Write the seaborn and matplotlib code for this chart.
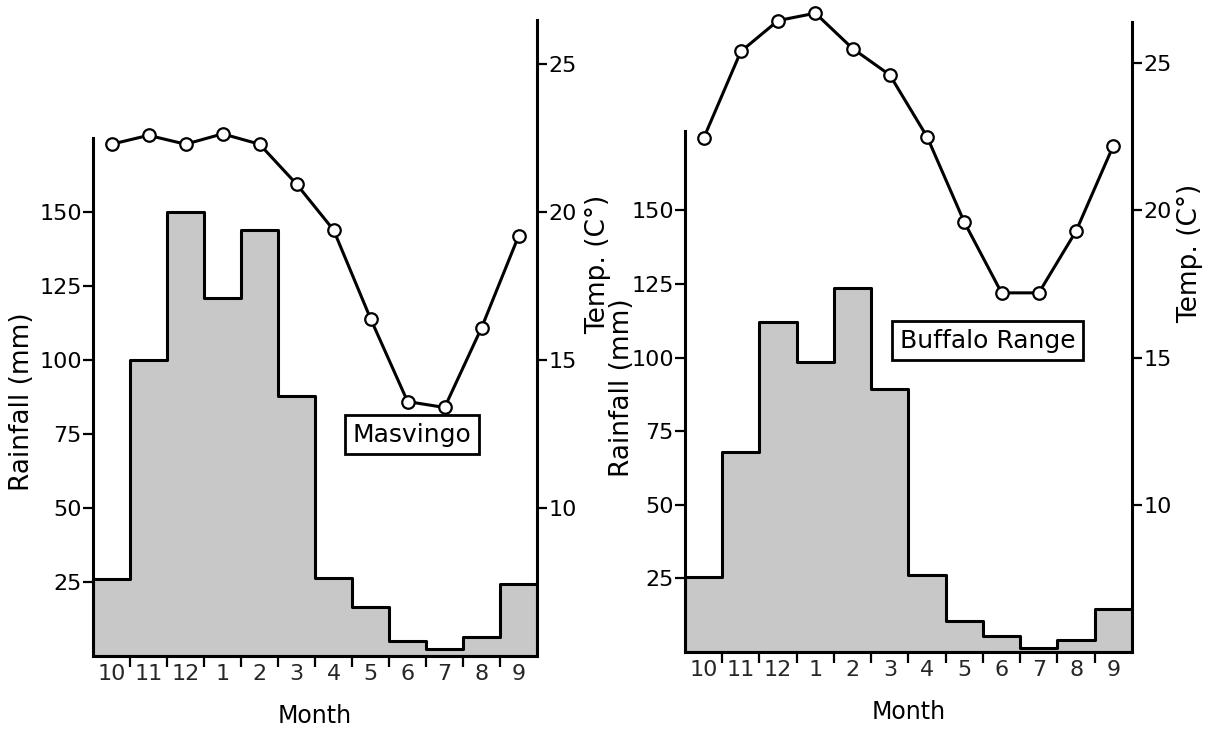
import numpy as np
import pandas as pd
import seaborn as sns
import matplotlib.pyplot as plt

# Data
months = ["10", "11", "12", "1", "2", "3", "4", "5", "6", "7", "8", "9"]
masvingo_rain = [26, 100, 150, 121, 144, 88, 26.5, 16.5, 5, 2.5, 6.5, 24.5]
masvingo_temp = [22.3, 22.6, 22.3, 22.65, 22.3, 20.95, 19.4, 16.4, 13.6, 13.4, 16.1, 19.2]
buffalo_rain = [25.5, 68, 112, 98.5, 123.5, 89.5, 26, 10.5, 5.5, 1.5, 4, 14.5]
buffalo_temp = [22.45, 25.4, 26.45, 26.7, 25.5, 24.6, 22.5, 19.6, 17.2, 17.2, 19.3, 22.2]

sns.set_style("ticks")
plt.rcParams['font.family'] = ['DejaVu Sans']

fig = plt.figure(figsize=(12.1, 7.34), dpi=100)

def draw_panel(rect, rain, temp, name, label_xy, rain_top, spine_top, rain_lab_xy, temp_lab_xy):
    ax = fig.add_axes(rect)
    pos = np.arange(len(months))
    df = pd.DataFrame({"pos": pos, "rain": rain, "temp": temp})

    # rainfall as a filled step histogram
    sns.histplot(data=df, x="pos", weights="rain", binwidth=1, binrange=(-0.5, 11.5),
                 element="step", fill=True, color="#c8c8c8", alpha=1,
                 edgecolor="black", linewidth=2.2, ax=ax)
    ax.set_xlim(-0.5, 11.5)
    ax.set_ylim(0, rain_top)
    ax.set_yticks([25, 50, 75, 100, 125, 150])
    ax.set_xticks(np.arange(0.5, 11, 1))
    ax.set_xticklabels([])
    ax.set_xticks(pos, minor=True)
    ax.set_xticklabels(months, minor=True, fontsize=16)
    ax.tick_params(axis="x", which="major", direction="out", length=8, width=1.6, color="black")
    ax.tick_params(axis="x", which="minor", length=0, pad=6)
    ax.tick_params(axis="y", direction="out", length=7, width=1.6, labelsize=16, pad=1,
                   color="black", labelcolor="black")
    ax.tick_params(axis="x", labelcolor="black")
    ax.set_ylabel("Rainfall (mm)", fontsize=19, color="black")
    ax.yaxis.set_label_coords(*rain_lab_xy)
    ax.set_xlabel("Month", fontsize=17, color="black", labelpad=14)
    for s in ["top", "right"]:
        ax.spines[s].set_visible(False)
    ax.spines["left"].set_bounds(0, spine_top)
    ax.spines["left"].set_linewidth(2.2)
    ax.spines["left"].set_color("black")
    ax.spines["bottom"].set_linewidth(2.2)
    ax.spines["bottom"].set_color("black")

    ax.text(label_xy[0], label_xy[1], name, fontsize=18, ha="center", va="center", color="black",
            bbox=dict(boxstyle="square,pad=0.3", facecolor="white", edgecolor="black", linewidth=2))

    # temperature on twin axis
    ax2 = ax.twinx()
    sns.lineplot(data=df, x="pos", y="temp", color="black", linewidth=2.2,
                 marker="o", markersize=9, markerfacecolor="white",
                 markeredgecolor="black", markeredgewidth=1.6, clip_on=False, ax=ax2)
    ax2.set_ylim(5, (rain_top + 50) / 10)
    ax2.set_yticks([10, 15, 20, 25])
    ax2.tick_params(axis="y", direction="out", length=7, width=1.6, labelsize=16, pad=1,
                    color="black", labelcolor="black")
    ax2.set_ylabel("Temp. (C°)", fontsize=19, color="black")
    ax2.yaxis.set_label_coords(*temp_lab_xy)
    for s in ["top", "left", "bottom"]:
        ax2.spines[s].set_visible(False)
    ax2.spines["right"].set_linewidth(2.2)
    ax2.spines["right"].set_color("black")
    return ax, ax2

draw_panel([0.0769, 0.1063, 0.367, 0.8665], masvingo_rain, masvingo_temp, "Masvingo",
           (8.12, 74.7), 215, 175, (-0.131, 0.40), (1.109, 0.615))
draw_panel([0.5661, 0.1117, 0.3694, 0.8583], buffalo_rain, buffalo_temp, "Buffalo Range",
           (7.63, 105.8), 214, 177, (-0.112, 0.42), (1.1, 0.633))

fig.savefig("out.png", dpi=100)
